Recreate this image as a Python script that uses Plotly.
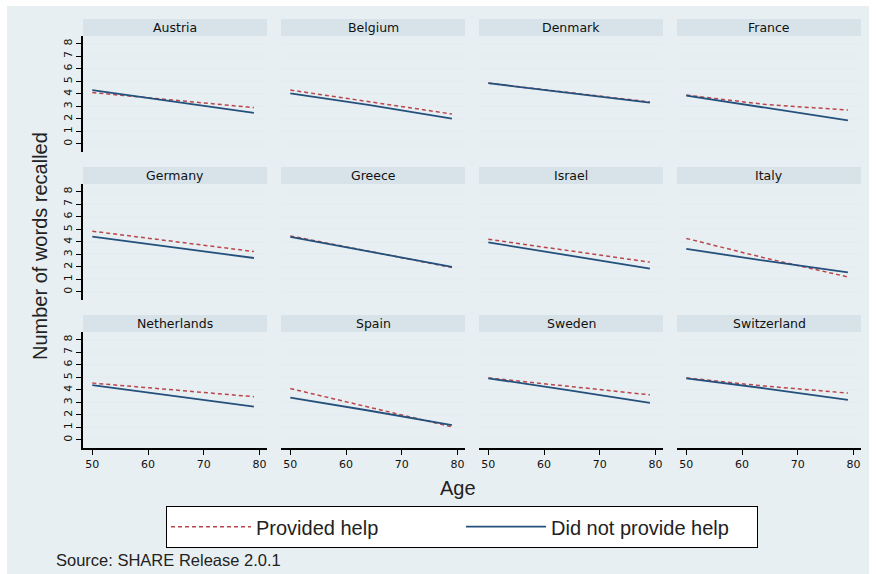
import plotly.graph_objects as go

W, H = 877, 574

# Panels, in reading order (4 per row)
COUNTRIES = ["Austria", "Belgium", "Denmark", "France",
             "Germany", "Greece", "Israel", "Italy",
             "Netherlands", "Spain", "Sweden", "Switzerland"]

# Ages at which the fitted recall curves are evaluated
AGE = [50, 64, 79]

# Mean number of words recalled, respondents who provided help
PROVIDED = [
    [4.10, 3.50, 2.90],  # Austria
    [4.30, 3.40, 2.39],  # Belgium
    [4.85, 4.10, 3.35],  # Denmark
    [3.90, 3.16, 2.70],  # France
    [4.85, 4.05, 3.22],  # Germany
    [4.47, 3.25, 1.95],  # Greece
    [4.20, 3.30, 2.38],  # Israel
    [4.27, 2.72, 1.20],  # Italy
    [4.54, 4.00, 3.45],  # Netherlands
    [4.10, 2.62, 1.05],  # Spain
    [4.95, 4.27, 3.60],  # Sweden
    [4.95, 4.30, 3.74],  # Switzerland
]

# Mean number of words recalled, respondents who did not provide help
NOT_PROVIDED = [
    [4.30, 3.43, 2.48],  # Austria
    [4.04, 3.12, 2.02],  # Belgium
    [4.85, 4.08, 3.29],  # Denmark
    [3.85, 2.92, 1.89],  # France
    [4.42, 3.60, 2.71],  # Germany
    [4.40, 3.23, 2.00],  # Greece
    [3.95, 2.93, 1.87],  # Israel
    [3.43, 2.50, 1.57],  # Italy
    [4.38, 3.55, 2.66],  # Netherlands
    [3.37, 2.35, 1.19],  # Spain
    [4.92, 4.00, 2.95],  # Sweden
    [4.92, 4.12, 3.20],  # Switzerland
]

X_TICKS = [50, 60, 70, 80]
Y_TICKS = [0, 1, 2, 3, 4, 5, 6, 7, 8]

SERIES_NAMES = ["Provided help", "Did not provide help"]

RED = "#b8474d"
BLUE = "#24507c"
OUTER_BG = "#e8eff2"
STRIP_BG = "#d8e3e9"
GRID = "#e5edf0"

# panel geometry in pixels
COL_X0, COL_W, COL_PITCH = 83, 184, 198
STRIP_TOP, STRIP_H, PLOT_H, ROW_PITCH = 19, 17, 116, 148


def fx(p):
    return p / W


def fy(p):
    return 1 - p / H


fig = go.Figure()
layout = {}
shapes = []
annotations = []

for i, name in enumerate(COUNTRIES):
    r, c = divmod(i, 4)
    sfx = "" if i == 0 else str(i + 1)
    x0 = COL_X0 + c * COL_PITCH
    x1 = x0 + COL_W
    st = STRIP_TOP + r * ROW_PITCH
    pt = st + STRIP_H
    pb = pt + PLOT_H

    layout["xaxis" + sfx] = dict(
        domain=[fx(x0), fx(x1)], range=[48.33, 81.35], anchor="y" + sfx,
        showgrid=False, zeroline=False, tickvals=X_TICKS,
        showticklabels=(r == 2), ticks="outside" if r == 2 else "",
        ticklen=5, tickwidth=1.3, tickcolor="black",
        showline=(r == 2), linecolor="black", linewidth=1.5,
        tickfont=dict(family="DejaVu Sans", size=11, color="#111"),
        fixedrange=True,
    )
    layout["yaxis" + sfx] = dict(
        domain=[fy(pb), fy(pt)], range=[-0.64, 8.61], anchor="x" + sfx,
        tickvals=Y_TICKS, showgrid=True, gridcolor=GRID, gridwidth=1.6,
        zeroline=False, showline=(c == 0), linecolor="black", linewidth=1.5,
        ticks="outside" if c == 0 else "", ticklen=5, tickwidth=1.3,
        tickcolor="black", showticklabels=(c == 0), tickangle=-90,
        tickfont=dict(family="DejaVu Sans", size=11, color="#111"),
        fixedrange=True,
    )

    # strip behind the panel title
    shapes.append(dict(type="rect", xref="paper", yref="paper",
                       x0=fx(x0), x1=fx(x1), y0=fy(pt), y1=fy(st),
                       fillcolor=STRIP_BG, line=dict(width=0), layer="below"))
    annotations.append(dict(text=name, xref="paper", yref="paper",
                            x=fx((x0 + x1) / 2), y=fy(st + STRIP_H / 2),
                            xanchor="center", yanchor="middle", showarrow=False,
                            font=dict(family="DejaVu Sans", size=12.5, color="#111")))

    fig.add_trace(go.Scatter(
        x=AGE, y=PROVIDED[i], mode="lines", name=SERIES_NAMES[0],
        legendgroup="p", showlegend=(i == 0),
        line=dict(color=RED, width=1.5, dash="4px,3px"),
        xaxis="x" + sfx, yaxis="y" + sfx, hoverinfo="skip",
    ))
    fig.add_trace(go.Scatter(
        x=AGE, y=NOT_PROVIDED[i], mode="lines", name=SERIES_NAMES[1],
        legendgroup="n", showlegend=(i == 0),
        line=dict(color=BLUE, width=1.8),
        xaxis="x" + sfx, yaxis="y" + sfx, hoverinfo="skip",
    ))

# light graph region behind everything
shapes.insert(0, dict(type="rect", xref="paper", yref="paper",
                      x0=fx(7), x1=fx(869), y0=0, y1=fy(6),
                      fillcolor=OUTER_BG, line=dict(width=0), layer="below"))

# shared axis titles and source note
annotations.append(dict(text="Number of words recalled", xref="paper", yref="paper",
                        x=fx(40), y=fy(246), textangle=-90, showarrow=False,
                        xanchor="center", yanchor="middle",
                        font=dict(family="Liberation Sans", size=20, color="#222")))
annotations.append(dict(text="Age", xref="paper", yref="paper",
                        x=fx(458), y=fy(488), showarrow=False,
                        xanchor="center", yanchor="middle",
                        font=dict(family="Liberation Sans", size=20, color="#222")))
annotations.append(dict(text="Source: SHARE Release 2.0.1", xref="paper", yref="paper",
                        x=fx(54), y=fy(560), showarrow=False,
                        xanchor="left", yanchor="middle",
                        font=dict(family="Liberation Sans", size=16.5, color="#222")))

fig.update_layout(
    width=W, height=H,
    margin=dict(l=0, r=0, t=0, b=0),
    paper_bgcolor="white", plot_bgcolor="white",
    shapes=shapes, annotations=annotations,
    showlegend=True,
    legend=dict(orientation="h", x=fx(166), y=fy(506),
                xanchor="left", yanchor="top",
                bgcolor="white", bordercolor="black", borderwidth=1.2,
                itemwidth=80, entrywidth=200, entrywidthmode="pixels",
                font=dict(family="Liberation Sans", size=20, color="#222"),
                tracegroupgap=0),
    **layout,
)

fig.write_html("out.html")
